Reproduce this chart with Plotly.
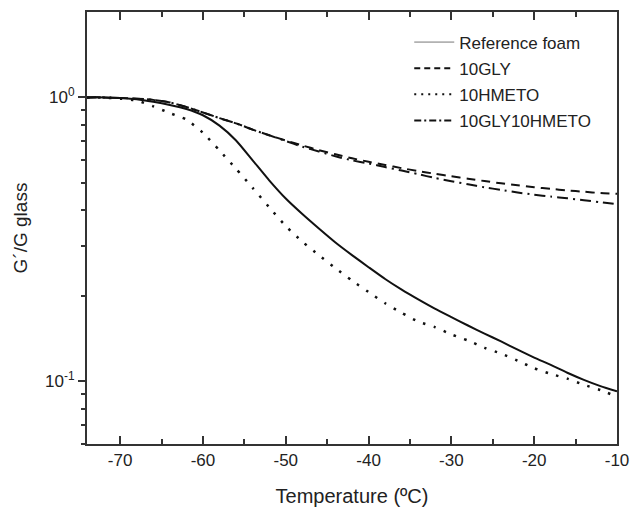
import plotly.graph_objects as go

# Temperature grid (°C)
temp = [-74, -72, -70, -68, -66, -64, -62, -60, -58, -56, -54, -52, -50, -48, -46,
        -44, -42, -40, -38, -36, -34, -32, -30, -28, -26, -24, -22, -20, -18, -16,
        -14, -12, -10]

ref_foam = [1.0, 1.0, 0.995, 0.985, 0.965, 0.94, 0.91, 0.865, 0.795, 0.705, 0.60,
            0.51, 0.44, 0.388, 0.345, 0.308, 0.278, 0.252, 0.229, 0.21, 0.194, 0.18,
            0.168, 0.157, 0.147, 0.138, 0.129, 0.121, 0.114, 0.107, 0.101, 0.096, 0.092]

gly10 = [1.0, 1.0, 0.995, 0.99, 0.98, 0.96, 0.925, 0.885, 0.845, 0.81, 0.77, 0.735,
         0.705, 0.677, 0.652, 0.630, 0.61, 0.593, 0.578, 0.563, 0.55, 0.538, 0.527,
         0.517, 0.507, 0.498, 0.49, 0.482, 0.476, 0.47, 0.465, 0.46, 0.457]

hmeto10 = [1.0, 0.998, 0.99, 0.975, 0.93, 0.88, 0.835, 0.75, 0.65, 0.56, 0.48, 0.41,
           0.352, 0.31, 0.278, 0.25, 0.226, 0.206, 0.188, 0.174, 0.162, 0.155, 0.146,
           0.139, 0.131, 0.125, 0.118, 0.111, 0.106, 0.102, 0.097, 0.093, 0.088]

gly10hmeto10 = [1.0, 1.0, 0.995, 0.99, 0.98, 0.96, 0.925, 0.885, 0.845, 0.81, 0.77,
                0.735, 0.702, 0.67, 0.645, 0.62, 0.60, 0.585, 0.568, 0.552, 0.536,
                0.52, 0.506, 0.494, 0.482, 0.472, 0.462, 0.454, 0.447, 0.441, 0.434,
                0.427, 0.42]

x_ticks = [-70, -60, -50, -40, -30, -20, -10]
x_ticktext = ["-70", "-60", "-50", "-40", "-30", "-20", "-10"]
x_minor = [-65, -55, -45, -35, -25, -15]
y_ticks = [0.1, 1.0]
y_ticktext = ["10<sup>-1</sup>", "10<sup>0</sup>"]
y_minor = [0.06, 0.07, 0.08, 0.09, 0.2, 0.3, 0.4, 0.5, 0.6, 0.7, 0.8, 0.9]

FONT = "Arial, Liberation Sans, sans-serif"
BLACK = "#111111"

fig = go.Figure()

fig.add_trace(go.Scatter(x=temp, y=ref_foam, mode="lines", showlegend=False,
                         line=dict(color=BLACK, width=2, shape="spline", smoothing=0.6)))
fig.add_trace(go.Scatter(x=temp, y=gly10, mode="lines", showlegend=False,
                         line=dict(color=BLACK, width=2, dash="9px,6px", shape="spline", smoothing=0.6)))
fig.add_trace(go.Scatter(x=temp, y=hmeto10, mode="lines", showlegend=False,
                         line=dict(color=BLACK, width=2.5, dash="2.5px,8.5px", shape="spline", smoothing=0.6)))
fig.add_trace(go.Scatter(x=temp, y=gly10hmeto10, mode="lines", showlegend=False,
                         line=dict(color=BLACK, width=2, dash="11px,5px,2px,5px", shape="spline", smoothing=0.6)))

# legend entries
fig.add_trace(go.Scatter(x=[None], y=[None], mode="lines", name="Reference foam",
                         legendgroup="a", line=dict(color="#777777", width=1)))
fig.add_trace(go.Scatter(x=[None], y=[None], mode="lines", name="10GLY",
                         legendgroup="b", line=dict(color=BLACK, width=2, dash="6px,4px")))
fig.add_trace(go.Scatter(x=[None], y=[None], mode="lines", name="10HMETO",
                         legendgroup="c", line=dict(color=BLACK, width=2, dash="2px,5px")))
fig.add_trace(go.Scatter(x=[None], y=[None], mode="lines", name="10GLY10HMETO",
                         legendgroup="d", line=dict(color=BLACK, width=2, dash="7px,3px,2px,3px")))

axis_color = "#333333"
fig.update_layout(
    width=633, height=507,
    margin=dict(l=87, r=16, t=12, b=63),
    paper_bgcolor="white", plot_bgcolor="white",
    font=dict(family=FONT, size=17, color="#222222"),
    showlegend=True,
    legend=dict(x=0.608, y=0.971, xanchor="left", yanchor="top",
                bgcolor="rgba(0,0,0,0)", font=dict(size=17, color="#222222"),
                tracegroupgap=1, itemwidth=40),
    xaxis=dict(
        range=[-74, -10], tickmode="array", tickvals=x_ticks, ticktext=x_ticktext,
        ticks="inside", ticklen=8, tickwidth=1.5, tickcolor=axis_color,
        showline=True, linecolor=axis_color, linewidth=2, mirror="ticks",
        showgrid=False, zeroline=False, automargin=False,
        minor=dict(tickmode="array", tickvals=x_minor, ticks="inside", ticklen=5,
                   tickwidth=1.5, tickcolor=axis_color, showgrid=False),
        title=dict(text="Temperature (ºC)", font=dict(size=20), standoff=20),
        tickfont=dict(size=17),
    ),
    yaxis=dict(
        type="log", range=[-1.2218, 0.301],
        tickmode="array", tickvals=y_ticks, ticktext=y_ticktext,
        ticks="outside", ticklen=7, tickwidth=1.5, tickcolor=axis_color,
        showline=True, linecolor=axis_color, linewidth=2, mirror=True,
        showgrid=False, zeroline=False, automargin=False,
        minor=dict(tickmode="array", tickvals=y_minor, ticks="outside", ticklen=4,
                   tickwidth=1.5, tickcolor=axis_color, showgrid=False),
        title=dict(text="G´/G glass", font=dict(size=19), standoff=12),
        tickfont=dict(size=17),
    ),
)

fig.write_html("out.html", config={"displayModeBar": False},
               post_script="document.body.style.margin='0';document.body.style.overflow='hidden';")
